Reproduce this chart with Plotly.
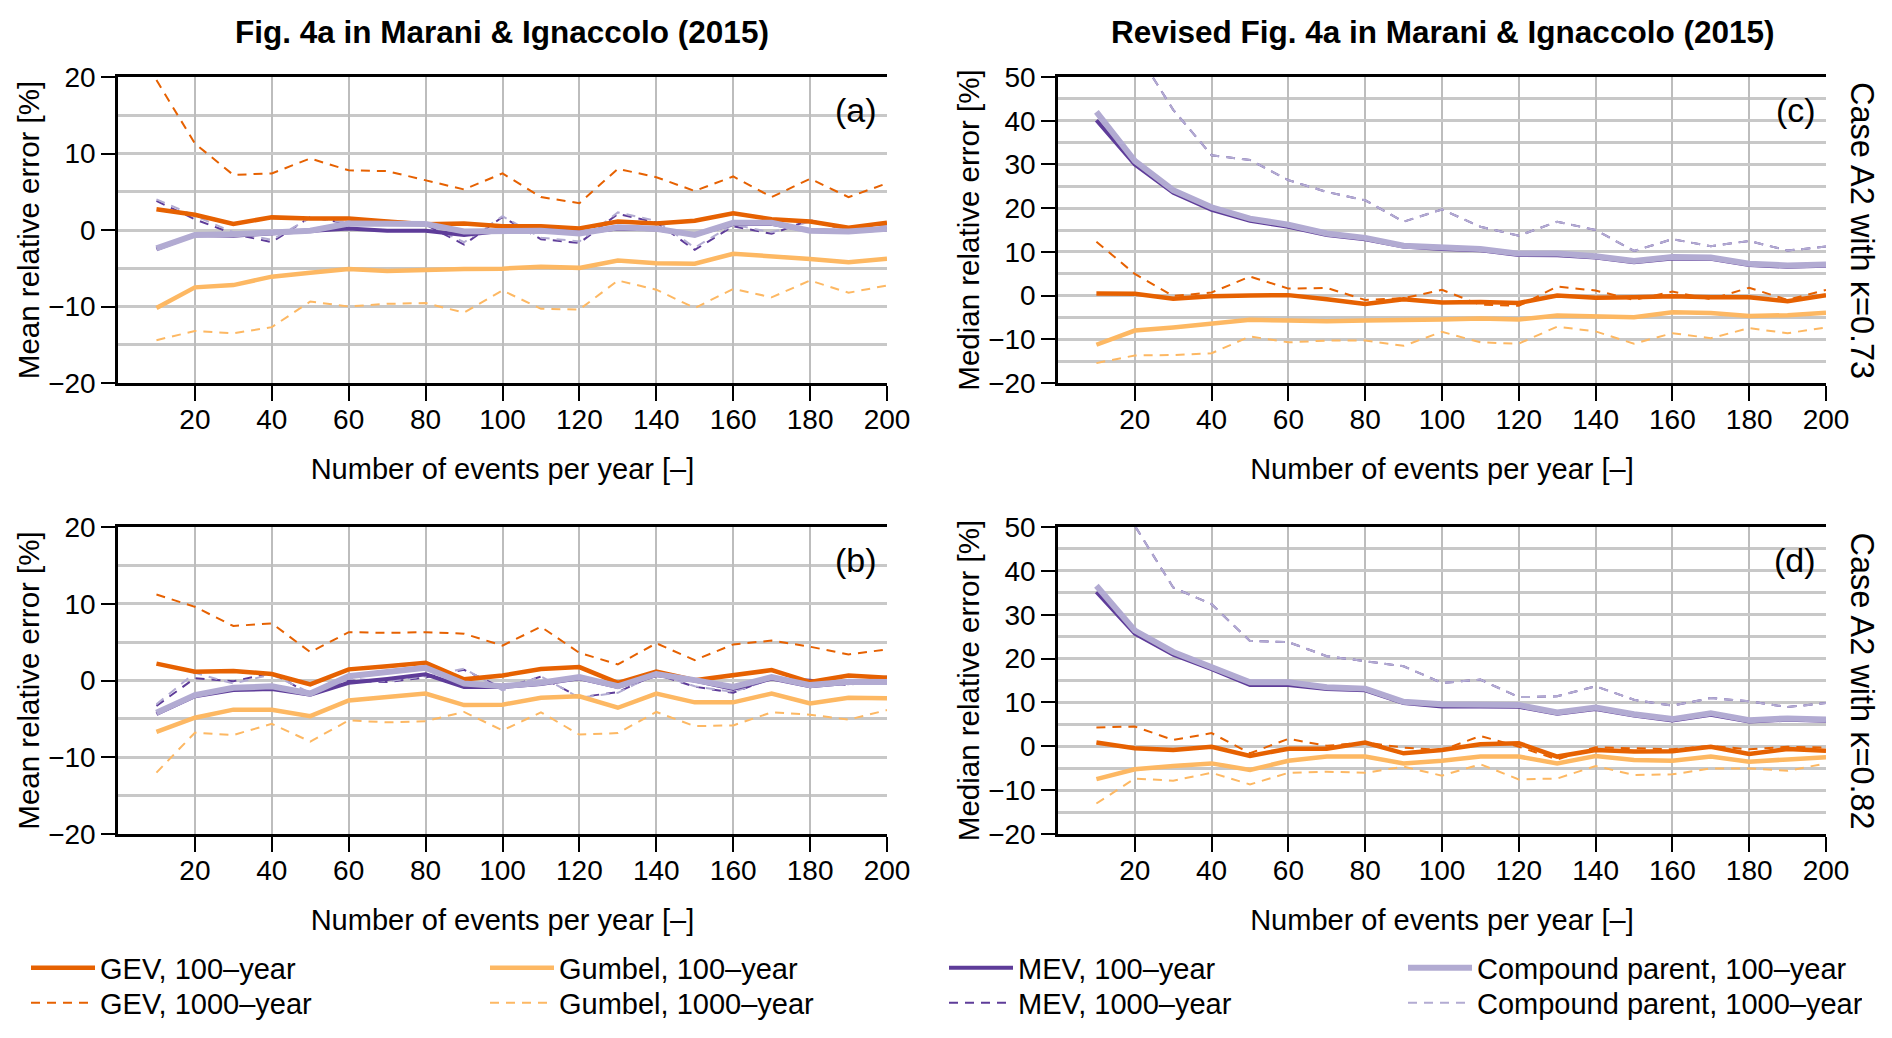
import plotly.graph_objects as go

W, H = 1892, 1038

# ---------------- data ----------------
N_EVENTS = [10, 20, 30, 40, 50, 60, 70, 80, 90, 100,
            110, 120, 130, 140, 150, 160, 170, 180, 190, 200]
X_TICKS = [20, 40, 60, 80, 100, 120, 140, 160, 180, 200]

# Panel (a): original Fig. 4a, mean relative error, kappa=0.73
A_GEV100 = [2.7, 2.0, 0.8, 1.65, 1.5, 1.5, 1.1, 0.75, 0.85, 0.5, 0.5, 0.2, 1.1, 0.85, 1.2, 2.2, 1.4, 1.1, 0.3, 0.95]
A_GEV1000 = [19.6, 11.3, 7.2, 7.4, 9.35, 7.8, 7.7, 6.5, 5.3, 7.4, 4.3, 3.5, 8.0, 6.9, 5.1, 7.0, 4.3, 6.7, 4.3, 6.1]
A_GUM100 = [-10.2, -7.5, -7.2, -6.1, -5.6, -5.1, -5.35, -5.2, -5.1, -5.05, -4.8, -4.95, -4.0, -4.35, -4.4, -3.1, -3.4, -3.8, -4.2, -3.75]
A_GUM1000 = [-14.4, -13.2, -13.5, -12.7, -9.35, -10.0, -9.65, -9.55, -10.8, -7.9, -10.3, -10.4, -6.6, -7.8, -10.2, -7.7, -8.8, -6.6, -8.2, -7.25]
A_MEV100 = [-2.5, -0.65, -0.75, -0.45, -0.2, 0.2, -0.1, -0.1, -0.65, -0.1, 0.0, -0.35, 0.2, 0.1, -0.65, 0.8, 0.8, -0.1, -0.2, 0.1]
A_MEV1000 = [3.8, 1.4, -0.5, -1.6, 1.7, 0.8, 1.0, 0.7, -1.9, 1.7, -1.2, -1.7, 2.1, 1.0, -2.6, 0.5, -0.5, 1.3, -0.1, 0.4]
A_CP100 = [-2.4, -0.65, -0.55, -0.3, -0.1, 0.85, 0.85, 0.8, -0.2, -0.1, -0.1, -0.45, 0.35, 0.15, -0.65, 0.95, 0.95, -0.1, -0.2, 0.15]
A_CP1000 = [4.0, 1.8, -0.3, -1.3, 1.6, 1.0, 1.2, 0.9, -1.6, 1.8, -1.0, -1.5, 2.3, 1.2, -2.3, 0.7, -0.3, 1.1, 0.1, 0.6]

# Panel (b): original Fig. 4a, mean relative error, kappa=0.82
B_GEV100 = [2.2, 1.15, 1.25, 0.85, -0.5, 1.45, 1.85, 2.3, 0.15, 0.65, 1.5, 1.75, -0.3, 1.15, 0.05, 0.75, 1.35, -0.2, 0.65, 0.35]
B_GEV1000 = [11.2, 9.6, 7.1, 7.45, 3.7, 6.3, 6.2, 6.3, 6.1, 4.55, 7.0, 3.6, 2.1, 4.85, 2.65, 4.7, 5.2, 4.4, 3.4, 4.05]
B_GUM100 = [-6.7, -4.85, -3.8, -3.8, -4.65, -2.6, -2.15, -1.7, -3.2, -3.15, -2.25, -2.05, -3.55, -1.7, -2.85, -2.85, -1.7, -3.0, -2.25, -2.3]
B_GUM1000 = [-12.0, -6.8, -7.1, -5.65, -7.95, -5.2, -5.45, -5.3, -4.1, -6.5, -4.15, -7.05, -6.85, -4.1, -5.95, -5.85, -4.15, -4.45, -5.1, -3.85]
B_MEV100 = [-4.35, -2.05, -1.25, -1.1, -1.85, -0.3, 0.2, 0.8, -0.85, -0.85, -0.45, 0.3, -0.85, 0.7, 0.0, -1.1, 0.25, -0.75, -0.3, -0.3]
B_MEV1000 = [-3.3, 0.3, -0.1, 1.0, -1.8, 0.0, -0.2, 0.4, 1.4, -1.0, 0.5, -2.2, -1.5, 0.8, -0.8, -1.6, 0.3, 0.1, -0.6, 0.5]
B_CP100 = [-4.2, -1.9, -0.95, -0.75, -1.7, 0.55, 1.1, 1.65, -0.4, -0.75, -0.3, 0.45, -0.75, 0.85, 0.05, -0.85, 0.45, -0.6, -0.15, -0.2]
B_CP1000 = [-3.1, 1.0, -0.4, 0.8, -1.6, 0.25, -0.1, 0.55, 1.55, -1.3, 0.55, -2.25, -1.6, 0.9, -0.75, -1.5, 0.2, 0.15, -0.5, 0.55]

# Panel (c): revised Fig. 4a, median relative error, kappa=0.73
C_GEV100 = [0.5, 0.4, -0.7, -0.15, 0.0, 0.1, -0.85, -1.9, -0.85, -1.6, -1.45, -1.7, 0.0, -0.5, -0.4, -0.15, -0.4, -0.4, -1.3, 0.1]
C_GEV1000 = [12.3, 4.95, -0.1, 0.7, 4.35, 1.6, 1.75, -1.0, -0.6, 1.3, -2.1, -2.35, 2.05, 1.15, -1.0, 0.9, -0.85, 1.8, -1.0, 1.3]
C_GUM100 = [-11.25, -8.0, -7.3, -6.45, -5.55, -5.7, -5.85, -5.7, -5.7, -5.5, -5.25, -5.5, -4.55, -4.65, -4.95, -3.8, -4.0, -4.65, -4.5, -3.95]
C_GUM1000 = [-15.45, -13.7, -13.6, -13.2, -9.35, -10.7, -10.3, -10.3, -11.5, -8.3, -10.7, -11.0, -7.1, -8.2, -11.0, -8.6, -9.75, -7.45, -8.6, -7.3]
C_MEV100 = [40.1, 30.0, 23.5, 19.6, 17.1, 15.75, 13.85, 12.9, 11.2, 10.65, 10.35, 9.3, 9.2, 8.7, 7.6, 8.5, 8.4, 7.0, 6.6, 6.8]
C_MEV1000 = [80.0, 56.5, 42.5, 32.1, 31.0, 26.4, 23.7, 21.8, 16.9, 19.7, 15.75, 13.7, 16.9, 15.0, 10.2, 12.9, 11.3, 12.5, 10.3, 11.2]
C_CP100 = [42.0, 30.8, 24.1, 20.2, 17.6, 16.2, 14.2, 13.2, 11.4, 10.95, 10.65, 9.6, 9.6, 9.0, 7.9, 8.8, 8.7, 7.3, 6.9, 7.1]
C_CP1000 = [80.0, 56.5, 42.5, 32.1, 31.0, 26.4, 23.7, 21.8, 16.9, 19.7, 15.75, 13.7, 16.9, 15.0, 10.2, 12.9, 11.3, 12.5, 10.3, 11.2]

# Panel (d): revised Fig. 4a, median relative error, kappa=0.82
D_GEV100 = [0.85, -0.45, -0.85, -0.1, -2.2, -0.55, -0.55, 0.85, -1.6, -0.85, 0.45, 0.7, -2.35, -0.85, -1.2, -1.15, -0.1, -1.75, -0.6, -1.0]
D_GEV1000 = [4.3, 4.5, 1.45, 3.0, -1.6, 1.7, 0.1, 0.85, -0.3, -0.85, 2.35, -0.1, -3.0, -0.2, -0.45, -0.7, 0.1, -0.7, -0.1, -0.3]
D_GUM100 = [-7.5, -5.25, -4.5, -3.9, -5.4, -3.3, -2.35, -2.35, -3.9, -3.3, -2.35, -2.35, -3.9, -2.2, -3.15, -3.3, -2.35, -3.5, -3.0, -2.5]
D_GUM1000 = [-13.05, -7.35, -7.85, -6.05, -8.7, -6.05, -5.8, -6.05, -4.65, -6.7, -4.1, -7.55, -7.35, -4.5, -6.55, -6.4, -5.05, -5.05, -5.6, -3.9]
D_MEV100 = [35.2, 25.7, 20.9, 17.6, 14.0, 14.0, 13.05, 12.75, 9.85, 9.1, 9.1, 9.0, 7.4, 8.5, 7.0, 5.9, 7.2, 5.65, 6.05, 5.8]
D_MEV1000 = [70.0, 50.3, 36.2, 32.4, 24.0, 23.75, 20.55, 19.4, 18.25, 14.45, 15.2, 11.2, 11.4, 13.7, 10.6, 9.25, 11.0, 10.25, 8.95, 9.85]
D_CP100 = [36.6, 26.4, 21.5, 18.0, 14.6, 14.6, 13.45, 13.15, 10.15, 9.6, 9.6, 9.4, 7.7, 8.85, 7.3, 6.2, 7.55, 5.95, 6.35, 6.1]
D_CP1000 = [70.0, 50.3, 36.2, 32.4, 24.0, 23.75, 20.55, 19.4, 18.25, 14.45, 15.2, 11.2, 11.4, 13.7, 10.6, 9.25, 11.0, 10.25, 8.95, 9.85]

PANELS = {
    "a": dict(GEV100=A_GEV100, GEV1000=A_GEV1000, GUM100=A_GUM100, GUM1000=A_GUM1000,
              MEV100=A_MEV100, MEV1000=A_MEV1000, CP100=A_CP100, CP1000=A_CP1000),
    "c": dict(GEV100=C_GEV100, GEV1000=C_GEV1000, GUM100=C_GUM100, GUM1000=C_GUM1000,
              MEV100=C_MEV100, MEV1000=C_MEV1000, CP100=C_CP100, CP1000=C_CP1000),
    "b": dict(GEV100=B_GEV100, GEV1000=B_GEV1000, GUM100=B_GUM100, GUM1000=B_GUM1000,
              MEV100=B_MEV100, MEV1000=B_MEV1000, CP100=B_CP100, CP1000=B_CP1000),
    "d": dict(GEV100=D_GEV100, GEV1000=D_GEV1000, GUM100=D_GUM100, GUM1000=D_GUM1000,
              MEV100=D_MEV100, MEV1000=D_MEV1000, CP100=D_CP100, CP1000=D_CP1000),
}

# ---------------- styles ----------------
GEV_C, GUM_C, MEV_C, CP_C = "#e66101", "#fdb863", "#5e3c99", "#b2abd2"
DASH = "9px,7px"
# key: (label, colour, width, dash, legend, rank)
STYLE = {
    "GEV1000": ("GEV, 1000\u2013year", GEV_C, 2, DASH, "legend2", 1),
    "GUM1000": ("Gumbel, 1000\u2013year", GUM_C, 2, DASH, "legend2", 2),
    "MEV1000": ("MEV, 1000\u2013year", MEV_C, 2, DASH, "legend2", 3),
    "CP1000": ("Compound parent, 1000\u2013year", CP_C, 2, DASH, "legend2", 4),
    "GUM100": ("Gumbel, 100\u2013year", GUM_C, 4.5, "solid", "legend", 2),
    "GEV100": ("GEV, 100\u2013year", GEV_C, 4.5, "solid", "legend", 1),
    "MEV100": ("MEV, 100\u2013year", MEV_C, 4, "solid", "legend", 3),
    "CP100": ("Compound parent, 100\u2013year", CP_C, 6, "solid", "legend", 4),
}
DRAW_ORDER = ["GEV1000", "GUM1000", "MEV1000", "CP1000", "GUM100", "GEV100", "MEV100", "CP100"]

AXES = {"a": ("x", "y"), "c": ("x2", "y2"), "b": ("x3", "y3"), "d": ("x4", "y4")}

fig = go.Figure()
for panel, (xr, yr) in AXES.items():
    data = PANELS[panel]
    for key in DRAW_ORDER:
        label, col, lw, dash, leg, rank = STYLE[key]
        fig.add_trace(go.Scatter(
            x=N_EVENTS, y=data[key], mode="lines", name=label,
            line=dict(color=col, width=lw, dash=dash),
            xaxis=xr, yaxis=yr, legend=leg, legendrank=rank,
            showlegend=(panel == "a"), hoverinfo="x+y+name",
        ))

FONT = "Liberation Sans, Arial, Helvetica, sans-serif"
TICKF = dict(family=FONT, size=28, color="black")
TITLEF = dict(family=FONT, size=29, color="black")
GRID = "#c8c8c8"

XD_L = [118 / W, 887 / W]
XD_R = [1058 / W, 1826 / W]
YD_T = [1 - 383 / H, 1 - 77 / H]
YD_B = [1 - 834 / H, 1 - 527 / H]


def xaxis(domain, anchor):
    return dict(domain=domain, anchor=anchor, range=[0, 200], tickvals=X_TICKS,
                ticks="outside", ticklen=15, tickwidth=2, tickcolor="black",
                ticklabelstandoff=-5,
                showline=True, linecolor="black", linewidth=2.5, mirror=True,
                showgrid=True, gridcolor="#bdbdbd", gridwidth=1.5, zeroline=False,
                tickfont=TICKF, automargin=False,
                title=dict(text="Number of events per year [\u2013]", font=TITLEF, standoff=25))


def yaxis(domain, anchor, rng, title):
    return dict(domain=domain, anchor=anchor, range=rng, dtick=10, tick0=0,
                ticks="outside", ticklen=14, tickwidth=2, tickcolor="black",
                showline=True, linecolor="black", linewidth=2.5, mirror=False,
                showgrid=True, gridcolor=GRID, gridwidth=2.5, zeroline=False,
                minor=dict(dtick=5, tick0=0, showgrid=True, gridcolor=GRID, gridwidth=2.5, ticks=""),
                tickfont=TICKF, automargin=False,
                title=dict(text=title, font=dict(TITLEF, size=29.5), standoff=0))


LEG = dict(orientation="h", xanchor="left", yanchor="middle", entrywidth=380,
           entrywidthmode="pixels", itemwidth=64, font=dict(family=FONT, size=29, color="black"),
           bgcolor="rgba(0,0,0,0)", borderwidth=0, traceorder="normal", tracegroupgap=0)

fig.update_layout(
    width=W, height=H, margin=dict(l=0, r=0, t=0, b=0, autoexpand=False),
    paper_bgcolor="white", plot_bgcolor="white",
    font=dict(family=FONT, color="black"),
    xaxis=xaxis(XD_L, "y"), yaxis=yaxis(YD_T, "x", [-20, 20], "Mean relative error [%]"),
    xaxis2=xaxis(XD_R, "y2"), yaxis2=yaxis(YD_T, "x2", [-20, 50], "Median relative error [%]"),
    xaxis3=xaxis(XD_L, "y3"), yaxis3=yaxis(YD_B, "x3", [-20, 20], "Mean relative error [%]"),
    xaxis4=xaxis(XD_R, "y4"), yaxis4=yaxis(YD_B, "x4", [-20, 50], "Median relative error [%]"),
    legend=dict(LEG, x=26 / W, y=1 - 968 / H),
    legend2=dict(LEG, x=26 / W, y=1 - 1003 / H),
    showlegend=True,
)

ann = []
# column titles
TF = dict(family=FONT, size=31.5, color="black")
ann.append(dict(text="<b>Fig. 4a in Marani &amp; Ignaccolo (2015)</b>", x=sum(XD_L) / 2, y=1 - 32 / H,
                xref="paper", yref="paper", showarrow=False, xanchor="center", yanchor="middle", font=TF))
ann.append(dict(text="<b>Revised Fig. 4a in Marani &amp; Ignaccolo (2015)</b>", x=sum(XD_R) / 2, y=1 - 32 / H,
                xref="paper", yref="paper", showarrow=False, xanchor="center", yanchor="middle", font=TF))
# panel letters
for panel, (xr, yr) in AXES.items():
    ann.append(dict(text="(%s)" % panel, x=1, y=0.892, xref="%s domain" % xr, yref="%s domain" % yr,
                    xanchor="right", yanchor="middle", xshift=-8, showarrow=False,
                    font=dict(family=FONT, size=34, color="black")))
# case labels
for yr, kappa in (("y2", "0.73"), ("y4", "0.82")):
    ann.append(dict(text="Case A2 with \u03ba=%s" % kappa, x=1862 / W, y=0.5, xref="paper",
                    yref="%s domain" % yr, xanchor="center", yanchor="middle", textangle=90,
                    showarrow=False, font=dict(family=FONT, size=32.5, color="black")))
fig.update_layout(annotations=ann)

fig.write_html("out.html", config={"displayModeBar": False},
               post_script="document.body.style.margin='0';document.body.style.padding='0';")
